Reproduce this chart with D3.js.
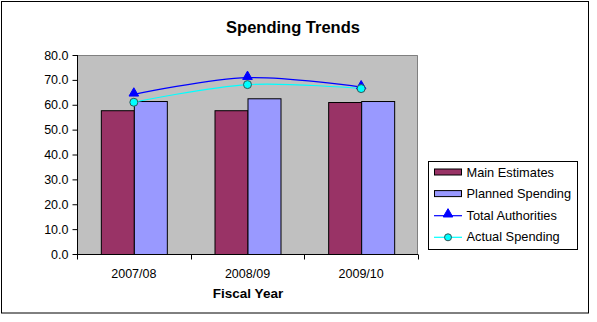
<!DOCTYPE html>
<html>
<head>
<meta charset="utf-8">
<script src="https://cdn.jsdelivr.net/npm/d3@7"></script>
<style>
  body { margin: 0; background: #fff; }
  svg text { font-family: "Liberation Sans", Arial, sans-serif; }
</style>
</head>
<body>
<svg id="chart" width="597" height="322"></svg>
<script>
// Fiscal years and spending figures ($ millions)
const years = ["2007/08", "2008/09", "2009/10"];
const mainEstimates = [57.8, 57.8, 61.1];
const plannedSpending = [61.5, 62.6, 61.5];
const totalAuthorities = [64.2, 70.9, 67.1];
const actualSpending = [61.0, 68.1, 66.5];
const yTicks = [0, 10, 20, 30, 40, 50, 60, 70, 80];

const svg = d3.select("#chart");

// Outer chart frame
svg.append("rect").attr("x", 1.5).attr("y", 1.5).attr("width", 587).attr("height", 311.5)
  .attr("fill", "#fff").attr("stroke", "#000").attr("stroke-width", 1);

const plot = { left: 77, right: 418, top: 55, bottom: 254 };

const x = d3.scaleBand().domain(years).range([plot.left, plot.right]).paddingInner(0).paddingOuter(0);
const y = d3.scaleLinear().domain([0, 80]).range([plot.bottom, plot.top]);

// Plot area background
svg.append("rect")
  .attr("x", plot.left).attr("y", plot.top)
  .attr("width", plot.right - plot.left).attr("height", plot.bottom - plot.top)
  .attr("fill", "#C0C0C0");
svg.append("path")
  .attr("d", `M${plot.left},${plot.top + 0.5}H${plot.right - 0.5}V${plot.bottom}`)
  .attr("fill", "none").attr("stroke", "#808080").attr("stroke-width", 1);

// Title
svg.append("text").attr("x", 293).attr("y", 33).attr("text-anchor", "middle")
  .attr("font-size", 16.5).attr("font-weight", "bold").text("Spending Trends");

// Bars
const barW = 33;
const series = [
  { vals: mainEstimates, color: "#993366", offset: -barW },
  { vals: plannedSpending, color: "#9999FF", offset: 0 }
];
series.forEach(s => {
  svg.append("g").selectAll("rect").data(years).join("rect")
    .attr("x", (d) => x(d) + x.bandwidth() / 2 + s.offset + 0.5)
    .attr("y", (d, i) => y(s.vals[i]) + 0.5)
    .attr("width", barW)
    .attr("height", (d, i) => y(0) - y(s.vals[i]))
    .attr("fill", s.color).attr("stroke", "#000").attr("stroke-width", 1);
});

// Y axis
const yAxis = d3.axisLeft(y).tickValues(yTicks).tickFormat(d3.format(".1f")).tickSize(5).tickPadding(4);
const gy = svg.append("g").attr("transform", `translate(${plot.left + 0.5},0)`).call(yAxis);
gy.selectAll("text").attr("font-size", 12.5).attr("fill", "#000");
gy.select(".domain").attr("stroke", "#000").attr("d", `M0,${plot.top}V${plot.bottom + 0.5}`);
gy.selectAll(".tick line").attr("stroke", "#000");

// X axis: category labels with ticks on band boundaries
const gx = svg.append("g").attr("transform", `translate(0,${plot.bottom + 0.5})`);
gx.append("line").attr("x1", plot.left).attr("x2", plot.right).attr("stroke", "#000");
const bounds = years.map(d => x(d)).concat([plot.right]);
gx.selectAll("line.tk").data(bounds).join("line").attr("class", "tk")
  .attr("x1", d => Math.round(d) + 0.5).attr("x2", d => Math.round(d) + 0.5)
  .attr("y1", 0).attr("y2", 5).attr("stroke", "#000");
gx.selectAll("text").data(years).join("text")
  .attr("x", d => x(d) + x.bandwidth() / 2).attr("y", 23)
  .attr("text-anchor", "middle").attr("font-size", 12.5).text(d => d);

svg.append("text").attr("x", 248).attr("y", 298).attr("text-anchor", "middle")
  .attr("font-size", 13.5).attr("font-weight", "bold").text("Fiscal Year");

// Smoothed lines with markers
const cx = d => x(d) + x.bandwidth() / 2;
const line = vals => d3.line().x(d => cx(d)).y((d, i) => y(vals[i])).curve(d3.curveCatmullRom.alpha(0.5))(years);

svg.append("path").attr("d", line(totalAuthorities)).attr("fill", "none")
  .attr("stroke", "#0000FF").attr("stroke-width", 1.2);
svg.append("path").attr("d", line(actualSpending)).attr("fill", "none")
  .attr("stroke", "#00FFFF").attr("stroke-width", 1.2);

const tri = d3.symbol().type(d3.symbolTriangle).size(40);
svg.append("g").selectAll("path").data(years).join("path")
  .attr("d", tri)
  .attr("transform", (d, i) => `translate(${cx(d)},${y(totalAuthorities[i]) - 1})`)
  .attr("fill", "#0000FF").attr("stroke", "#0000FF");
svg.append("g").selectAll("circle").data(years).join("circle")
  .attr("cx", d => cx(d)).attr("cy", (d, i) => y(actualSpending[i]))
  .attr("r", 4).attr("fill", "#00FFFF").attr("stroke", "#335555").attr("stroke-width", 1);

// Legend
const lg = svg.append("g");
lg.append("rect").attr("x", 428.5).attr("y", 161.5).attr("width", 149).attr("height", 88)
  .attr("fill", "#fff").attr("stroke", "#000");
const items = [
  { name: "Main Estimates", type: "bar", color: "#993366" },
  { name: "Planned Spending", type: "bar", color: "#9999FF" },
  { name: "Total Authorities", type: "tri", color: "#0000FF" },
  { name: "Actual Spending", type: "circ", color: "#00FFFF" }
];
items.forEach((it, i) => {
  const yy = 172 + i * 21.6;
  if (it.type === "bar") {
    lg.append("rect").attr("x", 434.5).attr("y", yy - 3).attr("width", 27).attr("height", 6)
      .attr("fill", it.color).attr("stroke", "#000");
  } else {
    lg.append("line").attr("x1", 434).attr("x2", 462).attr("y1", yy + 0.5).attr("y2", yy + 0.5)
      .attr("stroke", it.color).attr("stroke-width", 1.2);
    if (it.type === "tri") {
      lg.append("path").attr("d", tri).attr("transform", `translate(448,${yy - 1})`)
        .attr("fill", it.color).attr("stroke", it.color);
    } else {
      lg.append("circle").attr("cx", 448).attr("cy", yy + 0.5).attr("r", 3.5)
        .attr("fill", it.color).attr("stroke", "#335555");
    }
  }
  lg.append("text").attr("x", 466.5).attr("y", yy + 4.5).attr("font-size", 12.8).text(it.name);
});
</script>
</body>
</html>
